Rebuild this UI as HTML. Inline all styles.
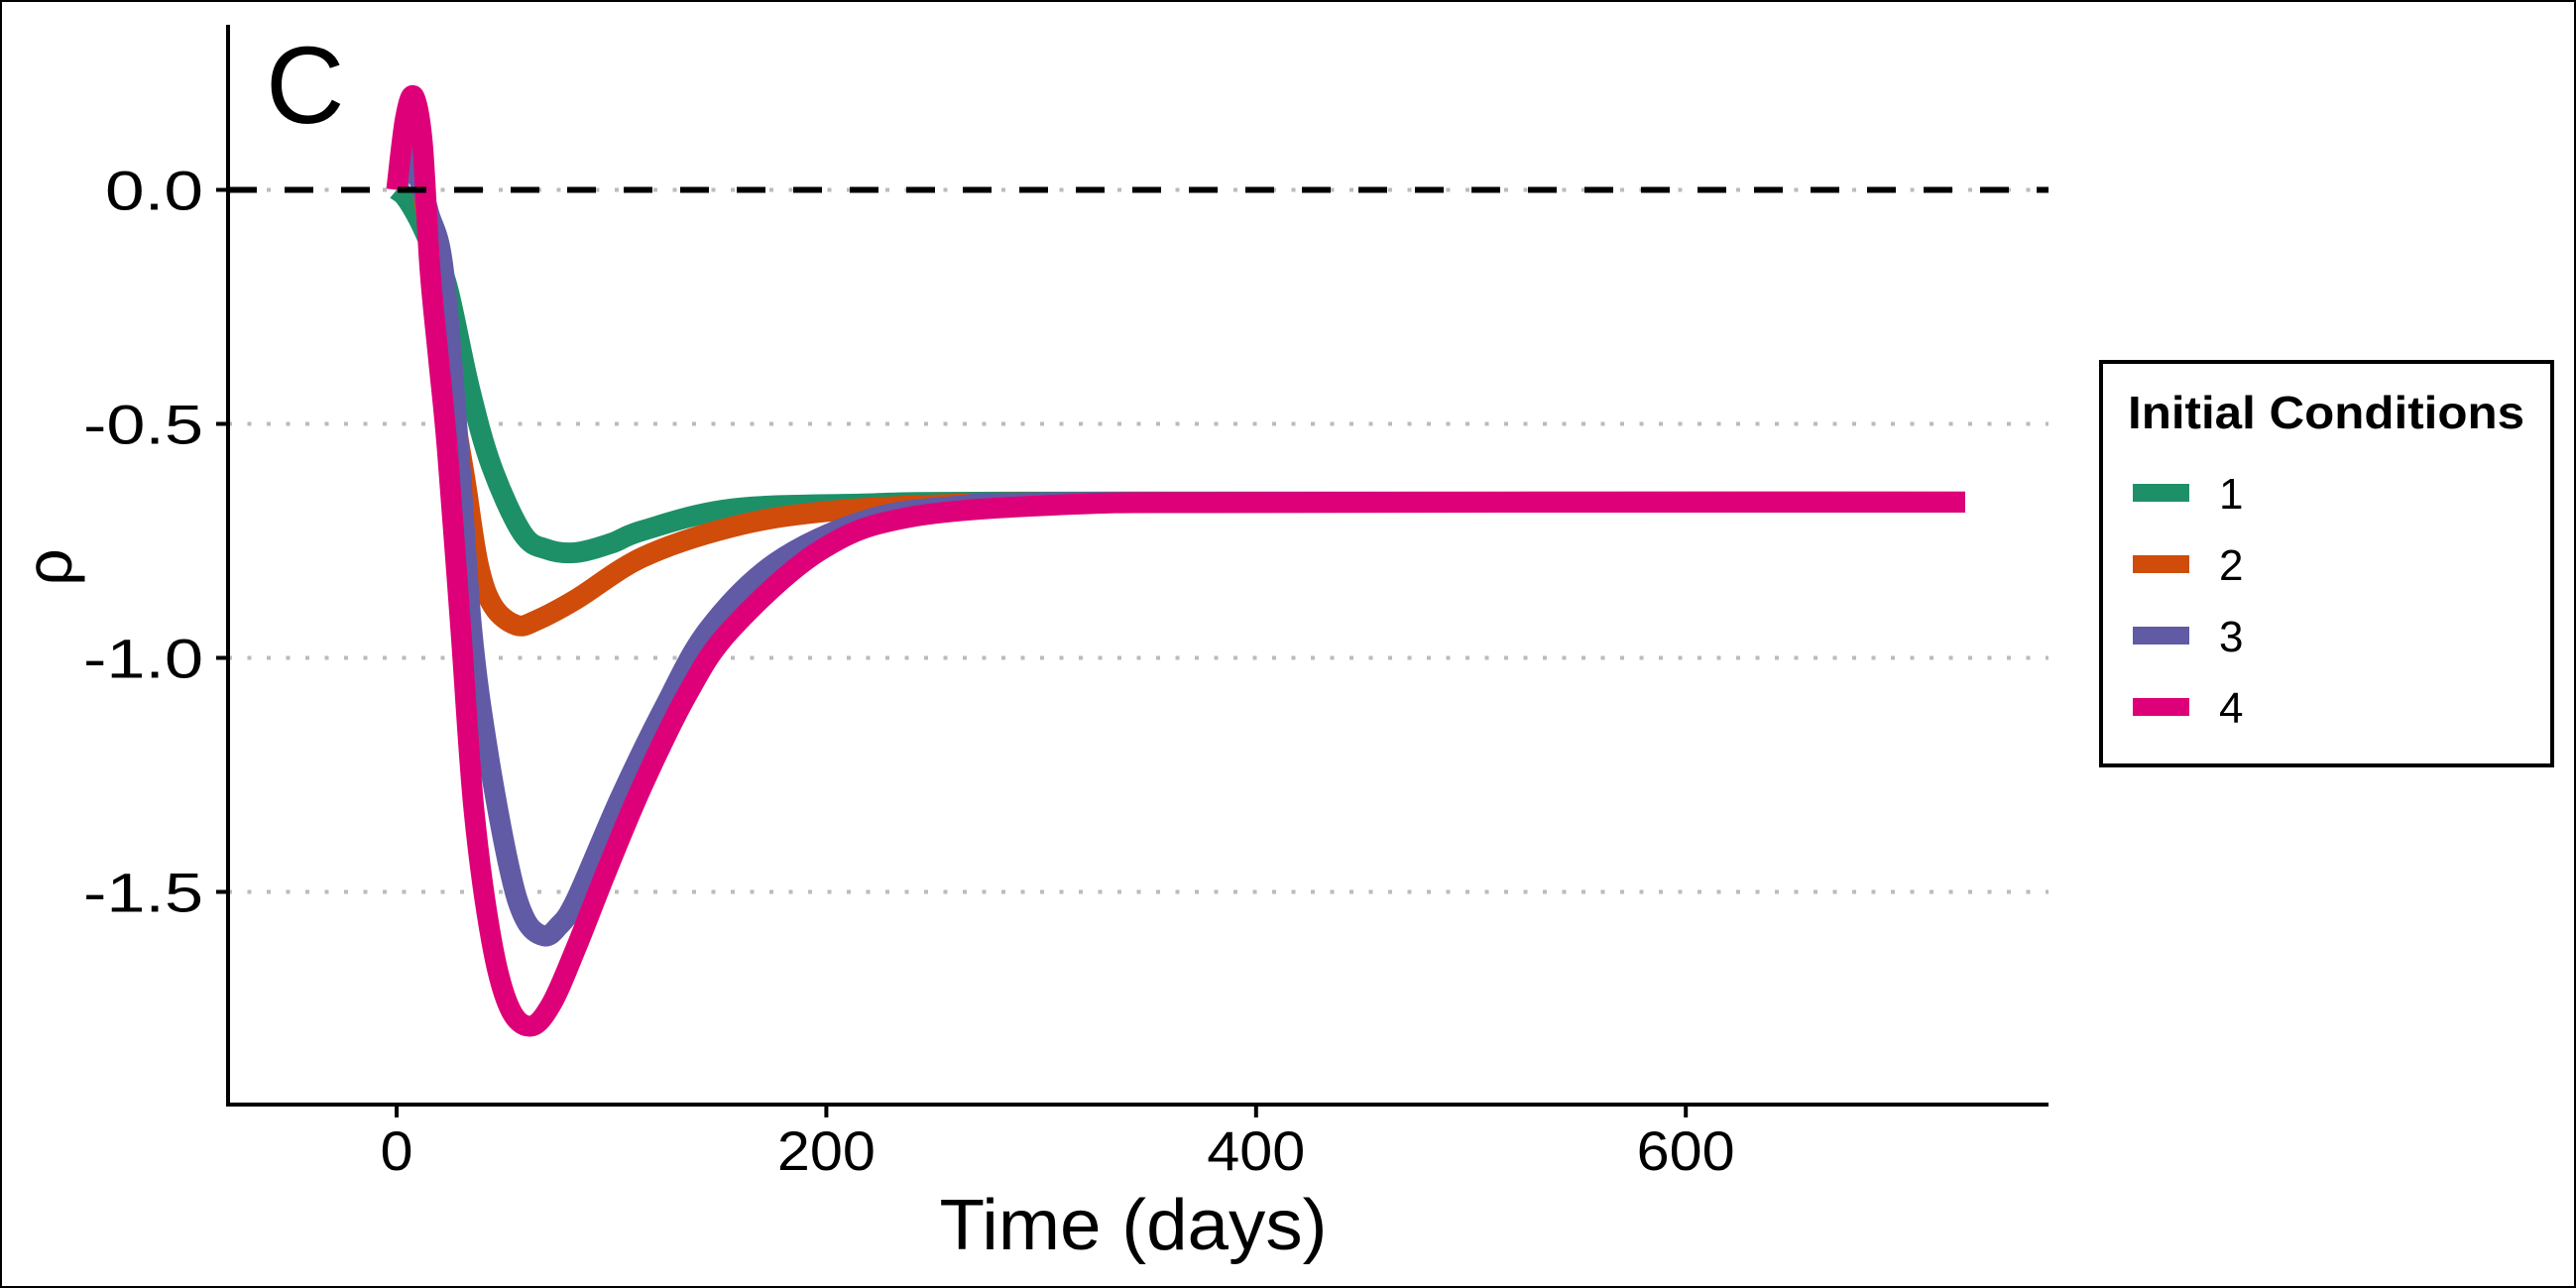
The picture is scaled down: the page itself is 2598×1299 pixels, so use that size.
<!DOCTYPE html>
<html><head><meta charset="utf-8"><style>
html,body{margin:0;padding:0;background:#fff}
svg{display:block}
text{font-family:"Liberation Sans",sans-serif}
</style></head><body>
<svg id="chart" width="2598" height="1299" viewBox="0 0 2598 1299" xmlns="http://www.w3.org/2000/svg">
<rect x="1" y="1" width="2596" height="1297" fill="#fff" stroke="#000" stroke-width="2"/>
<g id="grid"></g>
<g id="series"></g>
<g id="axes"></g>
<text x="268" y="124" font-size="110">C</text>
<text x="1143" y="1260" font-size="72" text-anchor="middle" textLength="391" lengthAdjust="spacingAndGlyphs">Time (days)</text>
<text x="0" y="0" font-size="66" text-anchor="middle" transform="translate(72,572) rotate(-90)">ρ</text>
<g>
<rect x="2119" y="365" width="455" height="407" fill="#fff" stroke="#000" stroke-width="4"/>
<text x="2146" y="432" font-size="46" font-weight="bold" textLength="400" lengthAdjust="spacingAndGlyphs">Initial Conditions</text>
<g id="legend-entries"></g>
</g>
</svg>
<script>
const seriesNames = ['1','2','3','4'];
const seriesColors = ['#1e9068','#d04c0a','#615aa5','#de0078'];
const t1 = [0,4,10,16,23.6,34,44.3,58.6,70,83.5,100,114.5,155.5,217,300,730];
const v1 = [0,-0.015,-0.06,-0.12,-0.207,-0.425,-0.592,-0.734,-0.768,-0.775,-0.755,-0.728,-0.682,-0.671,-0.667,-0.667];
const t2 = [0,4,8,12,17.6,24,31.8,38,45,55.7,65,83.5,114.5,155.5,196.6,258,350,730];
const v2 = [0,0.06,0.1,0.0,-0.168,-0.4,-0.618,-0.8,-0.89,-0.93,-0.92,-0.875,-0.785,-0.721,-0.689,-0.672,-0.668,-0.667];
const t3 = [0,3,6,10,15,21.7,28.9,35,42.3,52.6,60,68.6,75,83.5,104,124.6,145,176,217,258,330,730];
const v3 = [0,0.05,0.07,0.03,-0.05,-0.168,-0.554,-0.94,-1.196,-1.452,-1.56,-1.594,-1.575,-1.517,-1.3,-1.106,-0.94,-0.798,-0.708,-0.677,-0.668,-0.667];
const t4 = [0,4,8,12,15.5,19.5,23.6,29.9,36,44.3,52.6,62.4,72,83.5,98,114.5,135,155.5,196.6,238,314,400,730];
const v4 = [0,0.15,0.2,0.1,-0.168,-0.36,-0.554,-0.94,-1.325,-1.607,-1.748,-1.787,-1.74,-1.62,-1.452,-1.272,-1.08,-0.94,-0.772,-0.70,-0.672,-0.668,-0.667];
const xTicks = [0,200,400,600];
const yTicks = [0,-0.5,-1.0,-1.5];
const yTickLabels = ['0.0','-0.5','-1.0','-1.5'];
const gridVals = [0,-0.5,-1.0,-1.5];
const refVal = 0;

const NS='http://www.w3.org/2000/svg';
const X0=230, X1=2066, Y0=25, Y1=1114;
const xs = d => 400 + d*2.167;
const ys = v => 191.5 - v*472;
function mk(tag, attrs, parent){const e=document.createElementNS(NS,tag);for(const k in attrs)e.setAttribute(k,attrs[k]);parent.appendChild(e);return e;}
const grid=document.getElementById('grid'), ser=document.getElementById('series'), axes=document.getElementById('axes'), leg=document.getElementById('legend-entries');

gridVals.forEach(v=>{
  const l=mk('line',{x1:X0,x2:X1,y1:ys(v),y2:ys(v),stroke:'#bbb','stroke-width':4,'stroke-dasharray':'4 15.5'},grid);
  
  
});

function pathFor(ts,vs){
  const p=ts.map((t,i)=>[xs(t),ys(vs[i])]);
  let d='M'+p[0][0]+','+p[0][1];
  for(let i=0;i<p.length-1;i++){
    const a=p[Math.max(0,i-1)],b=p[i],c=p[i+1],e=p[Math.min(p.length-1,i+2)];
    const c1=[b[0]+(c[0]-a[0])/6,b[1]+(c[1]-a[1])/6], c2=[c[0]-(e[0]-b[0])/6,c[1]-(e[1]-b[1])/6];
    d+=' C'+c1[0]+','+c1[1]+' '+c2[0]+','+c2[1]+' '+c[0]+','+c[1];
  }
  return d;
}
const T=[t1,t2,t3,t4], V=[v1,v2,v3,v4];
T.forEach((ts,i)=>{
  const p=mk('path',{d:pathFor(ts,V[i]),fill:'none',stroke:seriesColors[i],'stroke-width':21,'stroke-linejoin':'round'},ser);
  
  
  const k=mk('rect',{x:2151,y:488+i*72,width:57,height:18,fill:seriesColors[i]},leg);
  
  
  const tx=mk('text',{x:2238,y:513+i*72,'font-size':44},leg);
  tx.textContent=seriesNames[i];
  
  
});

const ref=mk('line',{x1:X0,x2:X1,y1:ys(refVal),y2:ys(refVal),stroke:'#000','stroke-width':6,'stroke-dasharray':'29 28'},ser);



const ya=mk('line',{x1:X0,x2:X0,y1:Y0,y2:Y1+2,stroke:'#000','stroke-width':4},axes);


const xa=mk('line',{x1:X0-2,x2:X1,y1:Y1,y2:Y1,stroke:'#000','stroke-width':4},axes);


yTicks.forEach((v,i)=>{
  const t=mk('line',{x1:X0-12,x2:X0,y1:ys(v),y2:ys(v),stroke:'#000','stroke-width':4},axes);
  
  
  const lab=yTickLabels[i];
  const tx=mk('text',{x:205,y:ys(v)+20,'font-size':56,'text-anchor':'end',textLength:lab.length===3?99:121,lengthAdjust:'spacingAndGlyphs'},axes);
  tx.textContent=lab;
  
  
});
xTicks.forEach(v=>{
  const t=mk('line',{x1:xs(v),x2:xs(v),y1:Y1,y2:Y1+13,stroke:'#000','stroke-width':4},axes);
  
  
  const s=String(v);
  const tx=mk('text',{x:xs(v),y:1180,'font-size':56,'text-anchor':'middle',textLength:s.length*33,lengthAdjust:'spacingAndGlyphs'},axes);
  tx.textContent=s;
  
  
});
</script>
</body></html>
